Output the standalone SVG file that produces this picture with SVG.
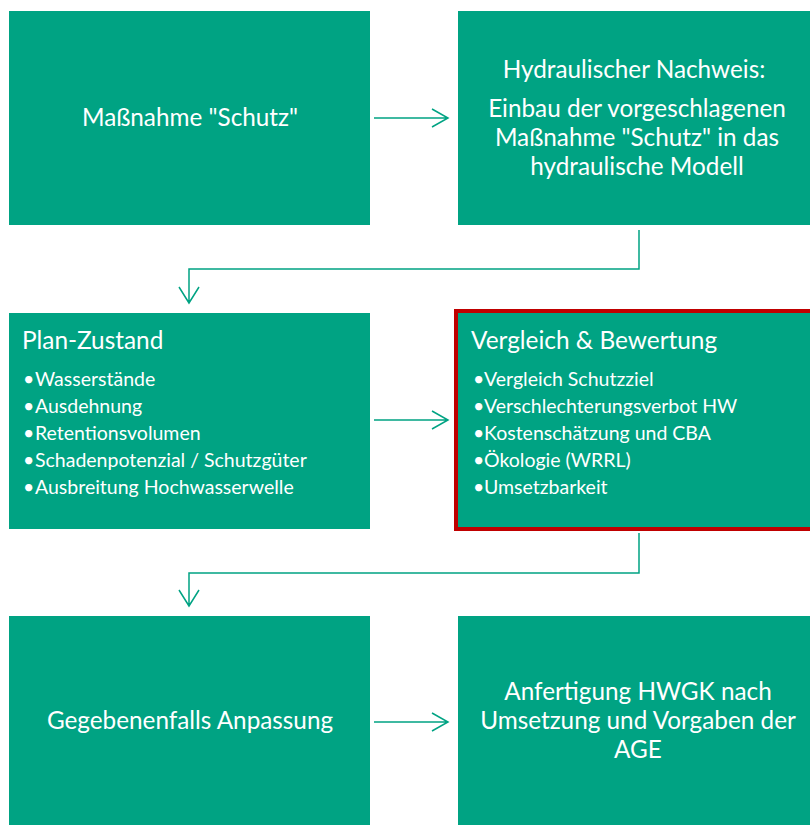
<svg xmlns="http://www.w3.org/2000/svg" width="810" height="825" viewBox="0 0 810 825">
<style>
.box{fill:#00A383}
.t{font-family:Lato,"Open Sans",sans-serif;fill:#fff}
.c{font-size:24.3px;text-anchor:middle}
.h{font-size:24.4px}
.b{font-size:19.5px}
.con{fill:none;stroke:#00A383;stroke-width:1.5}
</style>
<rect width="810" height="825" fill="#fff"/>
<g id="n1"><rect class="box" x="9" y="11" width="361" height="214"/>
<text class="t c" x="190" y="126">Maßnahme "Schutz"</text></g>
<g id="n2"><rect class="box" x="458" y="11" width="352" height="214"/>
<text class="t c" x="634" y="78">Hydraulischer Nachweis:</text>
<text class="t c" x="637" y="117">Einbau der vorgeschlagenen</text>
<text class="t c" x="637" y="146">Maßnahme "Schutz" in das</text>
<text class="t c" x="637" y="175">hydraulische Modell</text></g>
<g id="n3"><rect class="box" x="9" y="313" width="361" height="216"/>
<text class="t h" x="22" y="349">Plan-Zustand</text>
<g class="t b">
<text x="23" y="386">•</text><text x="35" y="386">Wasserstände</text>
<text x="23" y="413">•</text><text x="35" y="413">Ausdehnung</text>
<text x="23" y="440">•</text><text x="35" y="440">Retentionsvolumen</text>
<text x="23" y="467">•</text><text x="35" y="467">Schadenpotenzial / Schutzgüter</text>
<text x="23" y="494">•</text><text x="35" y="494">Ausbreitung Hochwasserwelle</text></g></g>
<g id="n4"><rect class="box" x="456" y="311" width="356" height="218" stroke="#C00000" stroke-width="4"/>
<text class="t h" x="471" y="349">Vergleich &amp; Bewertung</text>
<g class="t b">
<text x="473" y="386">•</text><text x="484" y="386">Vergleich Schutzziel</text>
<text x="473" y="413">•</text><text x="484" y="413">Verschlechterungsverbot HW</text>
<text x="473" y="440">•</text><text x="484" y="440">Kostenschätzung und CBA</text>
<text x="473" y="467">•</text><text x="484" y="467">Ökologie (WRRL)</text>
<text x="473" y="494">•</text><text x="484" y="494">Umsetzbarkeit</text></g></g>
<g id="n5"><rect class="box" x="9" y="616" width="361" height="209"/>
<text class="t c" x="190" y="729">Gegebenenfalls Anpassung</text></g>
<g id="n6"><rect class="box" x="458" y="616" width="352" height="209"/>
<text class="t c" x="638" y="700">Anfertigung HWGK nach</text>
<text class="t c" x="638" y="729">Umsetzung und Vorgaben der</text>
<text class="t c" x="638" y="758">AGE</text></g>
<g id="connectors">
<path class="con" d="M374 118H448M432 109L448 118L432 127"/>
<path class="con" d="M639 230V269H189V303M179 287L189 303L199 287"/>
<path class="con" d="M374 420H448M432 411L448 420L432 429"/>
<path class="con" d="M639 533V573H189V606M179 590L189 606L199 590"/>
<path class="con" d="M374 722H448M432 713L448 722L432 731"/>
</g>
</svg>
